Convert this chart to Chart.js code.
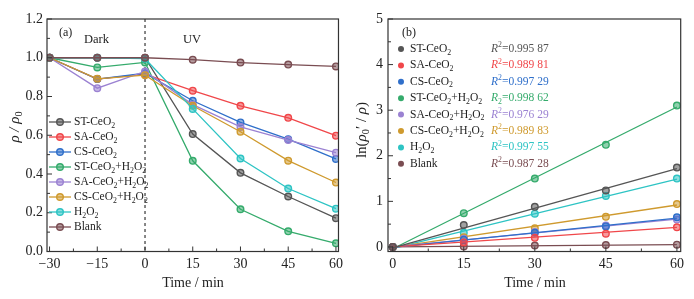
<!DOCTYPE html>
<html>
<head>
<meta charset="utf-8">
<script src="https://cdn.jsdelivr.net/npm/chart.js@4.4.1/dist/chart.umd.min.js"></script>
<style>
  html, body { margin: 0; padding: 0; background: #fff; }
  #wrap { position: relative; width: 694px; height: 299px; }
  canvas { position: absolute; top: 0; }
  #left { left: 0; }
  #right { left: 347px; }
</style>
</head>
<body>
<div id="wrap">
  <canvas id="left" width="347" height="299"></canvas>
  <canvas id="right" width="347" height="299"></canvas>
</div>
<script>
// "_" = next char subscript, "^" = next char superscript, "~" toggles italic
const seriesNames = ["ST-CeO_2", "SA-CeO_2", "CS-CeO_2", "ST-CeO_2+H_2O_2", "SA-CeO_2+H_2O_2", "CS-CeO_2+H_2O_2", "H_2O_2", "Blank"];
const seriesColors = ["#555555", "#f0474a", "#2f6fca", "#35ab6c", "#9b82d2", "#cf9a2e", "#2ec4c4", "#7a4d52"];

// panel (a): rho / rho0 vs time
const timeA = [-30, -15, 0, 15, 30, 45, 60];
const timeATicks = [-30, -15, 0, 15, 30, 45, 60];
const rhoST   = [1.0, 1.0, 1.0, 0.606, 0.406, 0.284, 0.172];
const rhoSA   = [1.0, 0.89, 0.915, 0.83, 0.752, 0.69, 0.598];
const rhoCS   = [1.0, 0.89, 0.92, 0.778, 0.666, 0.58, 0.478];
const rhoSTH  = [1.0, 0.95, 0.976, 0.468, 0.218, 0.104, 0.042];
const rhoSAH  = [1.0, 0.843, 0.929, 0.758, 0.643, 0.575, 0.51];
const rhoCSH  = [1.0, 0.891, 0.91, 0.752, 0.618, 0.469, 0.356];
const rhoH2O2 = [1.0, 1.0, 0.995, 0.736, 0.48, 0.325, 0.221];
const rhoBlank = [1.0, 1.0, 1.0, 0.99, 0.975, 0.965, 0.955];
const rhoAll = [rhoST, rhoSA, rhoCS, rhoSTH, rhoSAH, rhoCSH, rhoH2O2, rhoBlank];
const rhoTicks = [0, 0.2, 0.4, 0.6, 0.8, 1.0, 1.2];

// panel (b): ln(rho0'/rho) vs time, with linear fits
const timeB = [0, 15, 30, 45, 60];
const timeBTicks = [0, 15, 30, 45, 60];
const lnST   = [0, 0.48, 0.88, 1.24, 1.74];
const lnSA   = [0, 0.1, 0.2, 0.29, 0.43];
const lnCS   = [0, 0.16, 0.31, 0.45, 0.65];
const lnSTH  = [0, 0.74, 1.5, 2.24, 3.1];
const lnSAH  = [0, 0.18, 0.33, 0.47, 0.6];
const lnCSH  = [0, 0.21, 0.41, 0.66, 0.94];
const lnH2O2 = [0, 0.31, 0.73, 1.12, 1.5];
const lnBlank = [0, 0.01, 0.03, 0.04, 0.05];
const lnAll = [lnST, lnSA, lnCS, lnSTH, lnSAH, lnCSH, lnH2O2, lnBlank];
const fitTimes = [0, 60];
const fitST   = [-0.02, 1.72];
const fitSA   = [0.0, 0.43];
const fitCS   = [-0.01, 0.63];
const fitSTH  = [-0.04, 3.07];
const fitSAH  = [0.0, 0.61];
const fitCSH  = [-0.01, 0.92];
const fitH2O2 = [-0.03, 1.49];
const fitBlank = [0.0, 0.05];
const fitAll = [fitST, fitSA, fitCS, fitSTH, fitSAH, fitCSH, fitH2O2, fitBlank];
const lnTicks = [0, 1, 2, 3, 4, 5];
const r2Labels = ["~R~^2=0.995 87", "~R~^2=0.989 81", "~R~^2=0.997 29", "~R~_2=0.998 62",
                  "~R~^2=0.976 29", "~R~^2=0.989 83", "~R~^2=0.997 55", "~R~^2=0.987 28"];

const SERIF = '"Liberation Serif", "Times New Roman", serif';
const INK = "#222";

function plain(s) { return s.replace(/[~_^]/g, ""); }
function alpha(hex, a) {
  const n = parseInt(hex.slice(1), 16);
  return `rgba(${n >> 16}, ${(n >> 8) & 255}, ${n & 255}, ${a})`;
}

function drawRich(ctx, str, x, y, size, color, align) {
  const segs = [];
  let italic = false;
  for (let i = 0; i < str.length; i++) {
    let c = str[i];
    if (c === "~") { italic = !italic; continue; }
    let mode = 0;
    if (c === "_" || c === "^") { mode = c === "_" ? 1 : -1; i++; c = str[i]; }
    const last = segs[segs.length - 1];
    if (last && last.mode === mode && last.italic === italic) last.t += c;
    else segs.push({ t: c, mode, italic });
  }
  let w = 0;
  segs.forEach(s => {
    s.sz = s.mode ? size * 0.68 : size;
    ctx.font = (s.italic ? "italic " : "") + s.sz + "px " + SERIF;
    s.w = ctx.measureText(s.t).width;
    w += s.w;
  });
  let cx = align === "center" ? x - w / 2 : align === "right" ? x - w : x;
  ctx.save();
  ctx.fillStyle = color;
  ctx.textAlign = "left";
  ctx.textBaseline = "middle";
  segs.forEach(s => {
    ctx.font = (s.italic ? "italic " : "") + s.sz + "px " + SERIF;
    const dy = s.mode === 1 ? size * 0.3 : s.mode === -1 ? -size * 0.32 : 0;
    ctx.fillText(s.t, cx, y + dy);
    cx += s.w;
  });
  ctx.restore();
}

function drawFrame(chart, xMajor, xMinorStep, yMajor, yMinorStep) {
  const ctx = chart.ctx;
  const a = chart.chartArea;
  const xs = chart.scales.x, ys = chart.scales.y;
  ctx.save();
  ctx.strokeStyle = "#333";
  ctx.lineWidth = 1.2;
  ctx.strokeRect(a.left, a.top, a.right - a.left, a.bottom - a.top);
  ctx.lineWidth = 1;
  ctx.beginPath();
  xMajor.forEach(v => {
    const px = xs.getPixelForValue(v);
    ctx.moveTo(px, a.bottom); ctx.lineTo(px, a.bottom - 5);
    const mx = xs.getPixelForValue(v + xMinorStep);
    if (mx < a.right - 1) { ctx.moveTo(mx, a.bottom); ctx.lineTo(mx, a.bottom - 3); }
  });
  yMajor.forEach(v => {
    const py = ys.getPixelForValue(v);
    ctx.moveTo(a.left, py); ctx.lineTo(a.left + 5, py);
    const my = ys.getPixelForValue(v + yMinorStep);
    if (my > a.top + 1) { ctx.moveTo(a.left, my); ctx.lineTo(a.left + 3, my); }
  });
  ctx.stroke();
  ctx.restore();
}

function drawMarker(ctx, x, y, color) {
  ctx.beginPath();
  ctx.arc(x, y, 3.3, 0, Math.PI * 2);
  ctx.fillStyle = alpha(color, 0.55);
  ctx.fill();
  ctx.lineWidth = 1.4;
  ctx.strokeStyle = color;
  ctx.stroke();
}

const tickFont = { family: SERIF, size: 14 };

// ---------- left chart ----------
const leftDecor = {
  id: "leftDecor",
  beforeDatasetsDraw(chart) {
    const ctx = chart.ctx, a = chart.chartArea;
    const px = chart.scales.x.getPixelForValue(0);
    ctx.save();
    ctx.strokeStyle = "#111";
    ctx.lineWidth = 1;
    ctx.setLineDash([3, 3]);
    ctx.beginPath();
    ctx.moveTo(px, a.top); ctx.lineTo(px, a.bottom);
    ctx.stroke();
    ctx.restore();
  },
  afterDraw(chart) {
    const ctx = chart.ctx;
    drawFrame(chart, timeATicks, 7.5, rhoTicks, 0.1);
    drawRich(ctx, "(a)", 59, 33, 12, INK, "left");
    drawRich(ctx, "Dark", 84, 40, 12.5, INK, "left");
    drawRich(ctx, "UV", 183, 40, 12.5, INK, "left");
    seriesNames.forEach((name, i) => {
      const y = 122 + i * 15;
      ctx.save();
      ctx.strokeStyle = seriesColors[i];
      ctx.lineWidth = 1.3;
      ctx.beginPath(); ctx.moveTo(49, y); ctx.lineTo(71, y); ctx.stroke();
      drawMarker(ctx, 60, y, seriesColors[i]);
      ctx.restore();
      drawRich(ctx, name, 74, y, 11.5, INK, "left");
    });
    ctx.save();
    ctx.translate(15, 127);
    ctx.rotate(-Math.PI / 2);
    drawRich(ctx, "~ρ / ρ~_0", 0, 0, 15, INK, "center");
    ctx.restore();
    drawRich(ctx, "Time / min", 193, 283, 14, INK, "center");
  }
};

new Chart(document.getElementById("left"), {
  type: "line",
  data: {
    datasets: seriesNames.map((name, i) => ({
      label: plain(name),
      data: timeA.map((t, k) => ({ x: t, y: rhoAll[i][k] })),
      borderColor: seriesColors[i],
      backgroundColor: alpha(seriesColors[i], 0.55),
      pointBorderColor: seriesColors[i],
      pointBackgroundColor: alpha(seriesColors[i], 0.55),
      borderWidth: 1.3,
      pointRadius: 3.3,
      pointBorderWidth: 1.4,
      tension: 0
    })).reverse()
  },
  options: {
    responsive: false,
    animation: false,
    layout: { padding: { left: 0, right: 7, top: 19, bottom: 0 } },
    plugins: { legend: { display: false }, tooltip: { enabled: false } },
    scales: {
      x: {
        type: "linear", min: -30.8, max: 60.8,
        afterBuildTicks: s => { s.ticks = timeATicks.map(v => ({ value: v })); },
        afterFit: s => { s.height = 47.5; },
        grid: { display: false, drawTicks: false },
        border: { display: false },
        ticks: { font: tickFont, color: INK, padding: 4, maxRotation: 0,
                 callback: v => (v < 0 ? "\u2212" + Math.abs(v) : String(v)) }
      },
      y: {
        min: 0, max: 1.2,
        afterBuildTicks: s => { s.ticks = rhoTicks.map(v => ({ value: v })); },
        afterFit: s => { s.width = 47; },
        grid: { display: false, drawTicks: false },
        border: { display: false },
        ticks: { font: tickFont, color: INK, padding: 4, callback: v => v.toFixed(1) }
      }
    }
  },
  plugins: [leftDecor]
});

// ---------- right chart ----------
const rightDecor = {
  id: "rightDecor",
  afterDraw(chart) {
    const ctx = chart.ctx;
    drawFrame(chart, timeBTicks, 7.5, lnTicks, 0.5);
    drawRich(ctx, "(b)", 55, 33, 12, INK, "left");
    seriesNames.forEach((name, i) => {
      const y = 49 + i * 16.4;
      ctx.save();
      ctx.beginPath();
      ctx.arc(54, y, 3, 0, Math.PI * 2);
      ctx.fillStyle = seriesColors[i];
      ctx.fill();
      ctx.restore();
      drawRich(ctx, name, 63, y, 11.5, INK, "left");
      drawRich(ctx, r2Labels[i], 144, y, 11.5, seriesColors[i], "left");
    });
    ctx.save();
    ctx.translate(15, 130);
    ctx.rotate(-Math.PI / 2);
    drawRich(ctx, "ln(~ρ~_0′ / ~ρ~)", 0, 0, 15, INK, "center");
    ctx.restore();
    drawRich(ctx, "Time / min", 188, 283, 14, INK, "center");
  }
};

const rightSets = [];
seriesNames.forEach((name, i) => {
  rightSets.push({
    label: plain(name) + " fit",
    data: fitTimes.map((t, k) => ({ x: t, y: fitAll[i][k] })),
    showLine: true,
    borderColor: seriesColors[i],
    borderWidth: 1.3,
    pointRadius: 0
  });
  rightSets.push({
    label: plain(name),
    data: timeB.map((t, k) => ({ x: t, y: lnAll[i][k] })),
    showLine: false,
    pointRadius: 3.3,
    pointBorderWidth: 1.4,
    pointBorderColor: seriesColors[i],
    pointBackgroundColor: alpha(seriesColors[i], 0.55)
  });
});

new Chart(document.getElementById("right"), {
  type: "scatter",
  data: { datasets: rightSets },
  options: {
    responsive: false,
    animation: false,
    layout: { padding: { left: 0, right: 13.3, top: 19, bottom: 0 } },
    plugins: { legend: { display: false }, tooltip: { enabled: false } },
    scales: {
      x: {
        type: "linear", min: -1, max: 60.8,
        afterBuildTicks: s => { s.ticks = timeBTicks.map(v => ({ value: v })); },
        afterFit: s => { s.height = 47.5; },
        grid: { display: false, drawTicks: false },
        border: { display: false },
        ticks: { font: tickFont, color: INK, padding: 4, maxRotation: 0 }
      },
      y: {
        min: -0.1, max: 5,
        afterBuildTicks: s => { s.ticks = lnTicks.map(v => ({ value: v })); },
        afterFit: s => { s.width = 41; },
        grid: { display: false, drawTicks: false },
        border: { display: false },
        ticks: { font: tickFont, color: INK, padding: 5 }
      }
    }
  },
  plugins: [rightDecor]
});
</script>
</body>
</html>
